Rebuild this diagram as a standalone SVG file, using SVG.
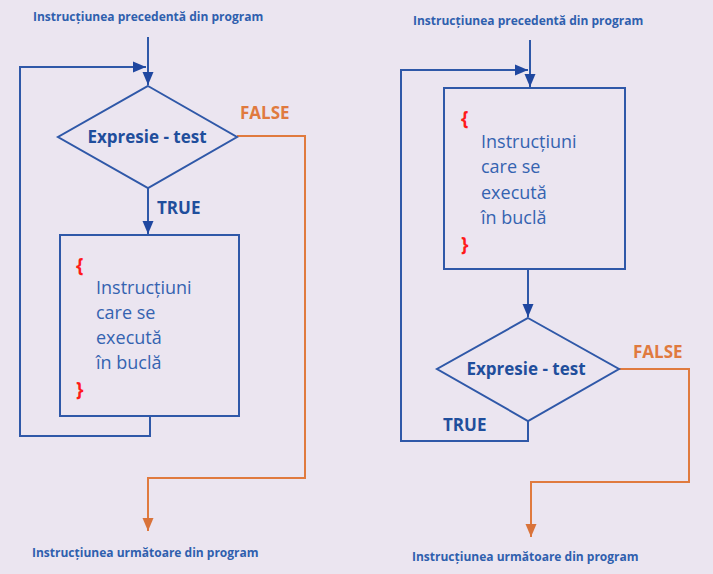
<svg xmlns="http://www.w3.org/2000/svg" width="713" height="574" viewBox="0 0 713 574">
<style>
.bg{fill:#ebe5f0}
.shape{fill:none;stroke:#2f58a8;stroke-width:2}
.ln{fill:none;stroke:#2f58a8;stroke-width:2}
.or{fill:none;stroke:#e07a3e;stroke-width:2}
.lbl{font-family:"Open Sans","Liberation Sans",sans-serif;font-weight:bold;font-size:12px;fill:#2f5fae}
.dec{font-family:"Open Sans","Liberation Sans",sans-serif;font-weight:bold;font-size:17px;fill:#1f4e9c;text-anchor:middle}
.tf{font-family:"Open Sans","Liberation Sans",sans-serif;font-weight:bold;font-size:17px}
.body{font-family:"Open Sans","Liberation Sans",sans-serif;font-size:18px;fill:#3563b0}
.br{font-family:"Open Sans","Liberation Sans",sans-serif;font-weight:bold;font-size:19px;fill:#ff1a1a}
</style>
<defs>
<marker id="ab" markerUnits="userSpaceOnUse" markerWidth="14" markerHeight="14" viewBox="0 0 14 14" refX="13" refY="7" orient="auto">
<path d="M0,1.5 L13,7 L0,12.5 Z" fill="#1f47a0"/>
</marker>
<marker id="ao" markerUnits="userSpaceOnUse" markerWidth="14" markerHeight="14" viewBox="0 0 14 14" refX="13" refY="7" orient="auto">
<path d="M0,1.5 L13,7 L0,12.5 Z" fill="#d9733a"/>
</marker>
</defs>
<rect class="bg" x="0" y="0" width="713" height="574"/>

<g id="connectors">
<path class="ln" d="M148,37 V85" marker-end="url(#ab)"/>
<path class="ln" d="M150,416 V436 H20 V67 H146" marker-end="url(#ab)"/>
<path class="ln" d="M148,188 V234" marker-end="url(#ab)"/>
<path class="or" d="M237,136 H305 V478 H148 V531" marker-end="url(#ao)"/>
<path class="ln" d="M530,40 V87" marker-end="url(#ab)"/>
<path class="ln" d="M528,421 V441 H401 V70 H528" marker-end="url(#ab)"/>
<path class="ln" d="M528,269 V317" marker-end="url(#ab)"/>
<path class="or" d="M619,369 H689 V482 H531 V537" marker-end="url(#ao)"/>
</g>

<g id="left-start"><text class="lbl" x="33" y="21">Instrucțiunea precedentă din program</text></g>
<g id="left-decision">
<polygon class="shape" points="148,86 237,137 148,188 58,137"/>
<text class="dec" x="147" y="143">Expresie - test</text>
</g>
<g id="left-false"><text class="tf" x="240" y="119" fill="#e07a3e">FALSE</text></g>
<g id="left-true"><text class="tf" x="157" y="214" fill="#1f4e9c">TRUE</text></g>
<g id="left-body">
<rect class="shape" x="60" y="235" width="179" height="181"/>
<text class="br" x="76" y="272">{</text>
<text class="body" x="96" y="294">Instrucțiuni</text>
<text class="body" x="96" y="319">care se</text>
<text class="body" x="96" y="344">execută</text>
<text class="body" x="96" y="369">în buclă</text>
<text class="br" x="76" y="396">}</text>
</g>
<g id="left-end"><text class="lbl" x="32" y="557">Instrucțiunea următoare din program</text></g>

<g id="right-start"><text class="lbl" x="413" y="25">Instrucțiunea precedentă din program</text></g>
<g id="right-body">
<rect class="shape" x="444" y="88" width="181" height="181"/>
<text class="br" x="461" y="125">{</text>
<text class="body" x="481" y="148">Instrucțiuni</text>
<text class="body" x="481" y="173">care se</text>
<text class="body" x="481" y="199">execută</text>
<text class="body" x="481" y="224">în buclă</text>
<text class="br" x="461" y="251">}</text>
</g>
<g id="right-decision">
<polygon class="shape" points="528,318 619,369 528,421 437,369"/>
<text class="dec" x="526" y="375">Expresie - test</text>
</g>
<g id="right-false"><text class="tf" x="633" y="358" fill="#e07a3e">FALSE</text></g>
<g id="right-true"><text class="tf" x="443" y="431" fill="#1f4e9c">TRUE</text></g>
<g id="right-end"><text class="lbl" x="412" y="561">Instrucțiunea următoare din program</text></g>
</svg>
